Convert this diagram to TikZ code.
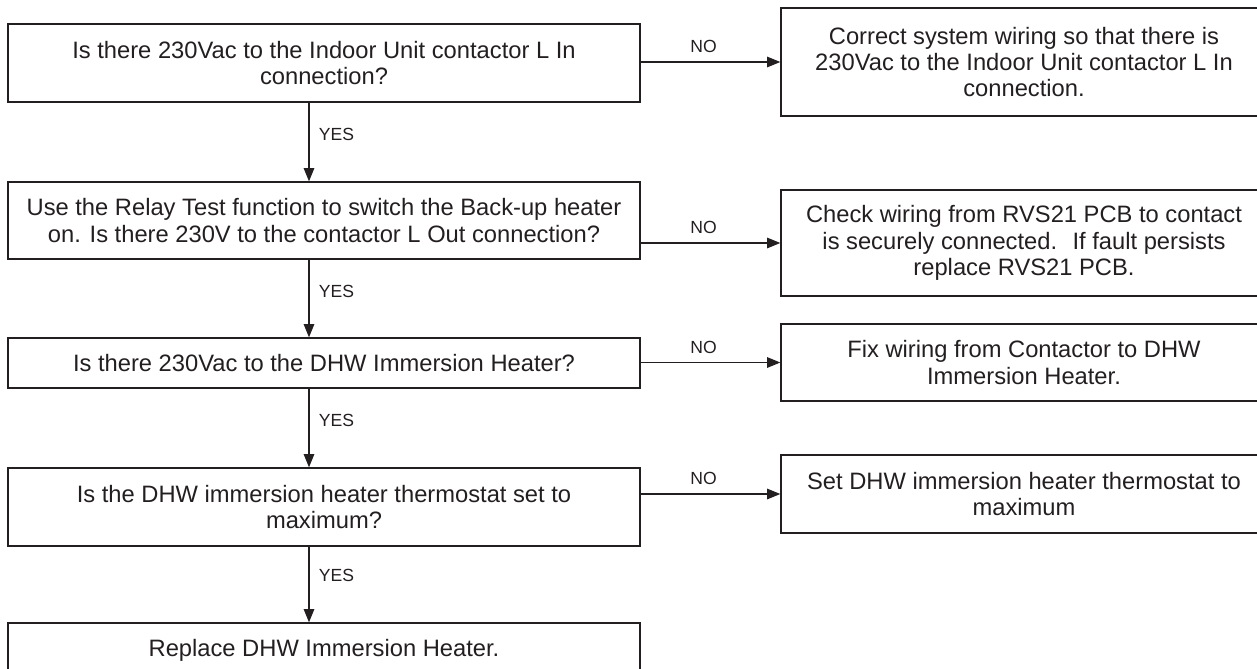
\documentclass[tikz,border=0pt]{standalone}
\usepackage{fontspec}
\setmainfont{Liberation Sans}
\usetikzlibrary{arrows.meta}
\definecolor{ink}{RGB}{35,31,32}
\newcommand\boxfont{\fontsize{13.5}{14.9}\selectfont}
\newcommand\tagfont{\fontsize{10}{12}\selectfont}
\tikzset{box/.style={draw=ink,line width=.8pt,align=center,font=\boxfont,text=ink,inner sep=0pt},
 ask/.style={box,minimum width=12.64cm},
 fix/.style={box,minimum width=9.72cm},
 flow/.style={draw=ink,line width=.6pt,-{Triangle[length=7.5pt,width=6pt]}},
 yes/.style={right=2pt,pos=.41,font=\tagfont,text=ink},
 no/.style={above=1.5pt,pos=.45,font=\tagfont,text=ink}}

\begin{document}
\begin{tikzpicture}
\useasboundingbox (0,0) rectangle (25.14,-13.36);
\node[ask,minimum height=1.56cm] (q1) at (6.48,-1.26) {Is there 230Vac to the Indoor Unit contactor L In\\connection?};
\node[ask,minimum height=1.54cm] (q2) at (6.48,-4.41) {Use the Relay Test function to switch the Back-up heater\\on. Is there 230V to the contactor L Out connection?};
\node[ask,minimum height=1.00cm] (q3) at (6.48,-7.26) {Is there 230Vac to the DHW Immersion Heater?};
\node[ask,minimum height=1.56cm] (q4) at (6.48,-10.14) {Is the DHW immersion heater thermostat set to\\maximum?};
\node[ask,minimum height=1.08cm] (q5) at (6.48,-13.00) {Replace DHW Immersion Heater.};
\node[fix,minimum height=2.16cm] (r1) at (20.48,-1.24) {Correct system wiring so that there is\\230Vac to the Indoor Unit contactor L In\\connection.};
\node[fix,minimum height=2.12cm] (r2) at (20.48,-4.86) {Check wiring from RVS21 PCB to contact\\is securely connected.~ If fault persists\\replace RVS21 PCB.};
\node[fix,minimum height=1.54cm] (r3) at (20.48,-7.25) {Fix wiring from Contactor to DHW\\Immersion Heater.};
\node[fix,minimum height=1.56cm] (r4) at (20.48,-9.88) {Set DHW immersion heater thermostat to\\maximum};
\coordinate (spine) at (6.18,0);
\draw[flow] (q1.south -| spine) -- node[yes] {YES} (q2.north -| spine);
\draw[flow] (q2.south -| spine) -- node[yes] {YES} (q3.north -| spine);
\draw[flow] (q3.south -| spine) -- node[yes] {YES} (q4.north -| spine);
\draw[flow] (q4.south -| spine) -- node[yes,pos=.38] {YES} (q5.north -| spine);
\draw[flow] (r1.west -| q1.east) -- node[no] {NO} (r1.west);
\draw[flow] (r2.west -| q2.east) -- node[no] {NO} (r2.west);
\draw[flow] (r3.west -| q3.east) -- node[no] {NO} (r3.west);
\draw[flow] (r4.west -| q4.east) -- node[no] {NO} (r4.west);
\end{tikzpicture}
\end{document}
